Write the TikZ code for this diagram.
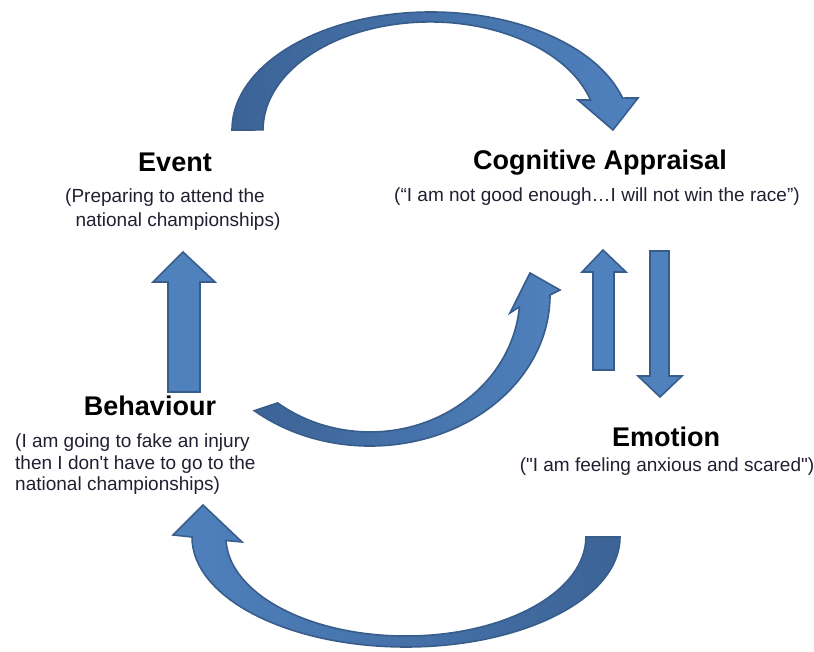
\documentclass[tikz,border=0pt]{standalone}
\usepackage{fontspec}
\setmainfont{Liberation Sans}[Ligatures=TeXOff]
\definecolor{arrfill}{RGB}{79,129,189}
\definecolor{arrdark}{RGB}{60,99,150}
\definecolor{arrline}{RGB}{56,93,138}
\definecolor{subtext}{RGB}{35,30,50}
\begin{document}
\begin{tikzpicture}[x=1pt,y=1pt,
  blockarrow/.style={draw=arrline, line width=1.6pt, line join=miter, fill=arrfill},
  title/.style={font=\fontsize{27}{30}\selectfont\bfseries, inner sep=0pt, anchor=base, text=black},
  sub/.style={font=\fontsize{19}{23}\selectfont, inner sep=0pt, anchor=base, text=subtext},
  subl/.style={sub, anchor=base west}]
\useasboundingbox (0,0) rectangle (814,652);

% top curved arrow (Event -> Cognitive Appraisal)
\path[blockarrow, left color=arrdark, right color=arrfill]
  (232,522) arc[start angle=180, end angle=15.7, x radius=199, y radius=118]
  -- (638,554) -- (613,522) -- (578,552) -- (590.5,552)
  arc[start angle=16.1, end angle=180, x radius=167, y radius=108] -- cycle;

% bottom curved arrow (Emotion -> Behaviour)
\path[blockarrow, left color=arrfill, right color=arrdark]
  (620,115) arc[start angle=0, end angle=-180, x radius=214, y radius=110]
  -- (173,117) -- (203,147) -- (242,110) -- (226,111.5)
  arc[start angle=-178, end angle=0, x radius=180, y radius=99] -- cycle;

% middle curved arrow (Behaviour -> Cognitive Appraisal)
\path[blockarrow, left color=arrdark, right color=arrfill]
  (254.3,241.3) arc[start angle=230, end angle=360, x radius=180, y radius=151]
  -- (560,362) -- (530,379) -- (510,339) -- (519.4,345.1)
  arc[start angle=355, end angle=232, x radius=150, y radius=137] -- cycle;

% left up arrow (Behaviour -> Event)
\path[blockarrow] (168,260) -- (200,260) -- (200,370) -- (215,370) -- (183,400)
  -- (153,370) -- (168,370) -- cycle;

% middle up arrow (Emotion -> Cognitive Appraisal)
\path[blockarrow] (593,282) -- (614,282) -- (614,380) -- (626,380) -- (603,402)
  -- (582,380) -- (593,380) -- cycle;

% down arrow (Cognitive Appraisal -> Emotion)
\path[blockarrow] (650,401) -- (669,401) -- (669,276) -- (682,276) -- (660,255)
  -- (638,276) -- (650,276) -- cycle;

% texts
\node[title] (event) at (175,480) {Event};
\node[sub] (event1) at (165,449) {(Preparing to attend the};
\node[sub] (event2) at (178,425) {national championships)};

\node[title] (cog) at (600,482) {Cognitive Appraisal};
\node[sub] (cog1) at (597,450) {(“I am not good enough…I will not win the race”)};

\node[title] (beh) at (150,236) {Behaviour};
\node[subl] (beh1) at (15,204) {(I am going to fake an injury};
\node[subl] (beh2) at (15,182) {then I don't have to go to the};
\node[subl] (beh3) at (15,161) {national championships)};

\node[title] (emo) at (666,205) {Emotion};
\node[sub] (emo1) at (667,180) {("I am feeling anxious and scared")};
\end{tikzpicture}
\end{document}
